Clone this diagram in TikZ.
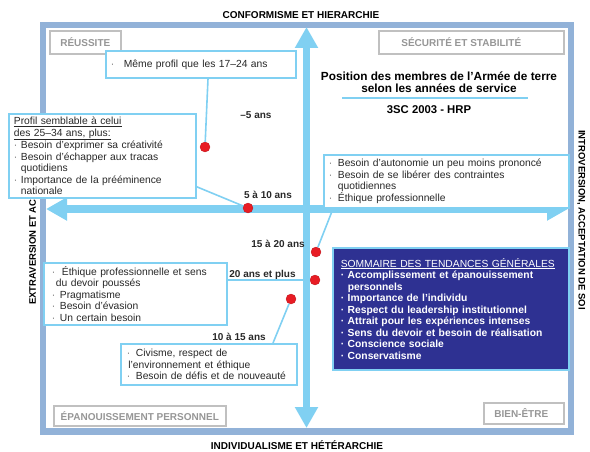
\documentclass[tikz,border=0pt]{standalone}
\usepackage{fontspec}
\setmainfont{Liberation Sans}
\usetikzlibrary{arrows.meta,calc}

\definecolor{framecol}{RGB}{146,178,216}
\definecolor{skyline}{RGB}{128,208,242}
\definecolor{dotred}{RGB}{232,28,36}
\definecolor{navybox}{RGB}{46,49,146}
\definecolor{cornergray}{RGB}{192,192,192}
\definecolor{cornertext}{RGB}{150,150,150}
\definecolor{bodytext}{RGB}{40,40,40}
\definecolor{bulletgray}{RGB}{110,110,110}

% bullet marks and hanging continuation
\newcommand\bul[1][7pt]{\makebox[#1][l]{\textcolor{bulletgray}{\textperiodcentered}}}
\newcommand\wbul[1][7pt]{\makebox[#1][l]{\textperiodcentered}}
\newcommand\cont[1][7pt]{\hspace*{#1}}

\begin{document}
\begin{tikzpicture}[x=1pt,y=-1pt,
  axislabel/.style={font=\bfseries\fontsize{10}{12}\selectfont, text=black,
    inner sep=0pt, text height=7.2pt, text depth=0pt},
  sidelabel/.style={axislabel, font=\bfseries\fontsize{9.5}{11}\selectfont,
    text height=6.8pt},
  cornerbox/.style={draw=cornergray, line width=1.6pt, fill=white,
    font=\bfseries\fontsize{10}{12}\selectfont, text=cornertext,
    inner sep=0pt, anchor=north west},
  infobox/.style={draw=skyline, line width=1.8pt, fill=white, anchor=north west,
    inner xsep=5pt, inner ysep=0pt, align=left, text=bodytext,
    font=\fontsize{10.3}{11.5}\selectfont},
  summarybox/.style={infobox, fill=navybox, draw=skyline, line width=1.5pt,
    inner xsep=8pt, text=white},
  agelabel/.style={font=\bfseries\fontsize{10}{12}\selectfont, text=bodytext,
    inner sep=0pt, text height=7.2pt, text depth=0pt},
  titletext/.style={font=\bfseries\fontsize{11.8}{13}\selectfont, text=black,
    inner sep=0pt, text height=8.5pt, text depth=0pt},
  reddot/.style={circle, fill=dotred, draw=dotred!80!black, line width=0.3pt,
    minimum size=10pt, inner sep=0pt},
  link/.style={draw=skyline, line width=1.6pt},
  bigarrow/.style={draw=skyline, line width=8pt,
    {Triangle[length=21pt,width=22pt]}-{Triangle[length=21pt,width=22pt]}}
]
\useasboundingbox (0,0) rectangle (590,452);

% outer frame
\draw[framecol, line width=6.5pt] (43,25) rectangle (571,431.5);

% axis captions
\node[axislabel] (topaxis) at (301,15) {CONFORMISME ET HIERARCHIE};
\node[axislabel] (botaxis) at (297,446) {INDIVIDUALISME ET HÉTÉRARCHIE};
\node[sidelabel, rotate=90, anchor=west] (leftaxis) at (32.5,305)
  {EXTRAVERSION ET ACCOMPLISSEMENT};
\node[sidelabel, rotate=-90] (rightaxis) at (582,220)
  {INTROVERSION, ACCEPTATION DE SOI};

% quadrant names
\node[cornerbox, minimum width=71pt, minimum height=23pt] (reussite) at (49,30)
  {RÉUSSITE};
\node[cornerbox, minimum width=185pt, minimum height=23pt] (securite) at (378,30)
  {SÉCURITÉ ET STABILITÉ\hspace*{20pt}};
\node[cornerbox, minimum width=172pt, minimum height=20pt] (epanouissement) at (53,405)
  {ÉPANOUISSEMENT PERSONNEL};
\node[cornerbox, minimum width=80pt, minimum height=21pt] (bienetre) at (483,402)
  {BIEN-ÊTRE\hspace*{5pt}};

% title block
\node[titletext] (title1) at (439,76) {Position des membres de l’Armée de terre};
\node[titletext] (title2) at (439,88) {selon les années de service};
\coordinate (ruleL) at (342,98);
\coordinate (ruleR) at (528,98);
\draw[skyline, line width=1.5pt] (ruleL) -- (ruleR);
\node[agelabel, font=\bfseries\fontsize{11.3}{13}\selectfont, text=black,
  text height=8pt] (source) at (429,109.5) {3SC 2003 - HRP};

% axes
\coordinate (vtop) at (306.5,27);
\coordinate (vbot) at (306.5,428);
\coordinate (hleft) at (46,209);
\coordinate (hright) at (568,209);
\draw[bigarrow] (hleft) -- (hright);
\draw[bigarrow, line width=7pt] (vbot) -- (vtop);

% profile boxes
\node[infobox, text width=180pt, minimum height=27pt] (boxA) at (105,50)
  {\bul[13pt]Même profil que les 17–24 ans};

\node[infobox, text width=177pt, minimum height=84pt] (boxB) at (8,113)
  {\underline{Profil semblable à celui}\\
   \underline{des 25–34 ans, plus:}\\
   \bul Besoin d’exprimer sa créativité\\
   \bul Besoin d’échapper aux tracas\\
   \cont quotidiens\\
   \bul Importance de la prééminence\\
   \cont nationale};

\node[infobox, text width=235pt, minimum height=53pt] (boxC) at (323,154)
  {\bul[9pt]Besoin d’autonomie un peu moins prononcé\\
   \bul[9pt]Besoin de se libérer des contraintes\\
   \cont[9pt]quotidiennes\\
   \bul[9pt]Éthique professionnelle};

\node[infobox, inner xsep=8pt, text width=167pt, minimum height=62pt] (boxD) at (43,262)
  {\bul[10pt]Éthique professionnelle et sens\\
   \cont[4pt]du devoir poussés\\
   \bul[8pt]Pragmatisme\\
   \bul[8pt]Besoin d’évasion\\
   \bul[8pt]Un certain besoin};

\node[infobox, inner xsep=6pt, text width=164pt, minimum height=41pt] (boxE) at (120,343)
  {\bul[9pt]Civisme, respect de\\
   \cont[1.5pt]l’environnement et éthique\\
   \bul[9pt]Besoin de défis et de nouveauté};

\node[summarybox, text width=220pt, minimum height=122pt] (summary) at (332,247)
  {\underline{SOMMAIRE DES TENDANCES GÉNÉRALES}\\
   \bfseries
   \wbul Accomplissement et épanouissement\\
   \cont personnels\\
   \wbul Importance de l’individu\\
   \wbul Respect du leadership institutionnel\\
   \wbul Attrait pour les expériences intenses\\
   \wbul Sens du devoir et besoin de réalisation\\
   \wbul Conscience sociale\\
   \wbul Conservatisme};

% years-of-service markers
\node[reddot] (dotA) at (205,147) {};
\node[reddot] (dotB) at (248,208) {};
\node[reddot] (dotC) at (316,252) {};
\node[reddot] (dotD) at (315,280) {};
\node[reddot] (dotE) at (291,299) {};

\node[agelabel] (labA) at (256,114.5) {–5 ans};
\node[agelabel] (labB) at (268,195) {5 à 10 ans};
\node[agelabel] (labC) at (278,243.5) {15 à 20 ans};
\node[agelabel] (labD) at (262.5,273.5) {20 ans et plus};
\node[agelabel] (labE) at (239,337) {10 à 15 ans};

% leader lines
\draw[link] ($(boxA.south west)+(103,0)$) -- (dotA);
\draw[link] ($(boxB.south east)+(0,-12)$) -- (dotB);
\draw[link] ($(boxC.south west)+(10,0)$) -- (dotC);
\draw[link] (dotD -| boxD.east) -- (dotD);
\draw[link] ($(boxE.north west)+(153,0)$) -- (dotE);
\end{tikzpicture}
\end{document}
